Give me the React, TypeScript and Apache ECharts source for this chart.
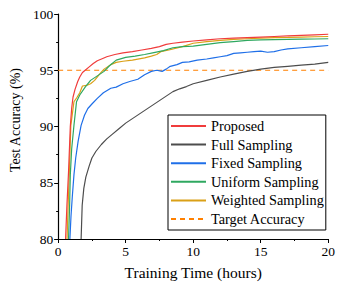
import React, { useEffect, useRef } from "react";
import * as echarts from "echarts";

const proposed: [number, number][] = [[0.55,80],[0.65,83],[0.77,86],[0.9,90],[1.0,91.6],[1.1,92.6],[1.25,93.3],[1.45,94],[1.6,94.4],[1.8,94.8],[2.0,95.0],[2.3,95.3],[2.6,95.6],[2.9,95.85],[3.3,96.05],[3.6,96.2],[4.2,96.4],[4.8,96.55],[5.5,96.65],[6.2,96.8],[6.9,96.95],[7.5,97.1],[8,97.3],[8.5,97.4],[9.2,97.5],[10,97.6],[11,97.7],[12,97.8],[13,97.85],[14,97.9],[15,97.95],[16,98.0],[17,98.05],[18,98.1],[19,98.15],[20,98.2]];
const fullSampling: [number, number][] = [[1.7,80],[1.78,83],[1.9,84.5],[2.05,85.5],[2.3,86.5],[2.5,87.2],[2.8,87.8],[3.2,88.4],[3.6,88.9],[4,89.3],[4.5,89.8],[5,90.3],[5.5,90.7],[6,91.1],[6.5,91.5],[7,91.9],[7.5,92.3],[8,92.7],[8.5,93.1],[9,93.35],[9.5,93.55],[10,93.8],[11,94.1],[12,94.4],[13,94.65],[14,94.9],[15,95.1],[16,95.25],[17,95.35],[18,95.45],[19,95.55],[20,95.7]];
const fixedSampling: [number, number][] = [[0.87,80],[0.95,82],[1.05,83.8],[1.17,85.7],[1.3,87.2],[1.48,88.7],[1.7,90.1],[1.95,91],[2.2,91.6],[2.5,92.0],[2.9,92.5],[3.35,93.0],[3.9,93.4],[4.3,93.5],[4.8,93.8],[5.3,94.0],[5.9,94.2],[6.4,94.6],[6.9,94.9],[7.3,95.0],[7.7,94.9],[8,95.1],[8.3,95.35],[8.8,95.5],[9.2,95.7],[9.7,95.75],[10.3,95.9],[11,96.0],[11.5,96.1],[12,96.2],[12.5,96.3],[13,96.5],[13.5,96.55],[14,96.6],[14.5,96.65],[15,96.7],[15.5,96.6],[16,96.65],[16.5,96.8],[17,96.9],[18,97.0],[19,97.1],[20,97.2]];
const uniformSampling: [number, number][] = [[0.77,80],[0.85,83],[0.9,85.7],[1.0,88],[1.17,90.1],[1.36,92.2],[1.6,92.8],[2,93.5],[2.4,94.1],[2.9,94.5],[3.4,94.9],[3.8,95.4],[4.3,95.9],[5,96.15],[5.7,96.25],[6.4,96.4],[7,96.55],[7.8,96.75],[8.5,97.0],[9.2,97.1],[10,97.15],[11,97.3],[12,97.45],[13,97.55],[14,97.65],[15,97.7],[16,97.72],[17,97.74],[18,97.76],[19,97.78],[20,97.8]];
const weightedSampling: [number, number][] = [[0.66,80],[0.74,83],[0.82,85.7],[0.94,90.1],[1.17,92.2],[1.4,92.6],[1.6,93],[1.8,93.6],[2.1,93.65],[2.4,93.8],[2.7,94.1],[3.1,94.7],[3.4,95.1],[3.9,95.5],[4.3,95.7],[4.8,95.8],[5.5,95.9],[6.4,96.1],[6.9,96.25],[7.3,96.4],[7.6,96.65],[8.2,96.8],[9.2,97.1],[10,97.4],[11,97.55],[12,97.65],[13,97.75],[14,97.8],[15,97.85],[16,97.9],[17,97.92],[18,97.95],[19,97.98],[20,98.0]];
const targetAccuracy: [number, number][] = [[0,95],[20,95]];

const seriesNames = ["Proposed", "Full Sampling", "Fixed Sampling", "Uniform Sampling", "Weighted Sampling", "Target Accuracy"];
const seriesColors = ["#f03c3c", "#4d4d4d", "#1f6fe8", "#2fa860", "#daa017", "#ff8000"];

const FONT = "Liberation Serif";

export default function App() {
  const ref = useRef<HTMLDivElement>(null);
  useEffect(() => {
    document.body.style.margin = "0";
    if (!ref.current) return;
    const chart = echarts.init(ref.current, undefined, { renderer: "svg" });
    const datasets = [proposed, fullSampling, fixedSampling, uniformSampling, weightedSampling, targetAccuracy];
    chart.setOption({
      animation: false,
      backgroundColor: "#fff",
      textStyle: { fontFamily: FONT },
      grid: { left: 49, right: 5, top: 14, bottom: 43 },
      legend: {
        left: 168,
        top: 115,
        orient: "vertical",
        itemWidth: 35,
        itemHeight: 14,
        itemGap: 4.6,
        padding: [4, 2, 4, 2],
        borderColor: "#000",
        borderWidth: 1,
        borderRadius: 0,
        itemStyle: { opacity: 0, borderWidth: 0 },
        textStyle: { fontFamily: FONT, fontSize: 14.3, color: "#000" },
        data: seriesNames,
      },
      xAxis: {
        type: "value",
        min: 0,
        max: 20,
        interval: 5,
        name: "Training Time (hours)",
        nameLocation: "middle",
        nameGap: 25,
        nameTextStyle: { fontFamily: FONT, fontSize: 15.5, color: "#000" },
        axisLine: { show: true, onZero: false, lineStyle: { color: "#000", width: 1.2 } },
        axisTick: { show: true, inside: false, length: 4, lineStyle: { color: "#000" } },
        minorTick: { show: true, splitNumber: 2, length: 2, lineStyle: { color: "#000" } },
        axisLabel: { fontFamily: FONT, fontSize: 13.5, color: "#000", margin: 5 },
        splitLine: { show: false },
      },
      yAxis: {
        type: "value",
        min: 80,
        max: 100,
        interval: 5,
        name: "Test Accuracy (%)",
        nameLocation: "middle",
        nameGap: 29,
        nameTextStyle: { fontFamily: FONT, fontSize: 14, color: "#000", padding: [0, 0, 0, 13] },
        axisLine: { show: true, onZero: false, lineStyle: { color: "#000", width: 1.2 } },
        axisTick: { show: true, inside: false, length: 4, lineStyle: { color: "#000" } },
        minorTick: { show: true, splitNumber: 2, length: 2, lineStyle: { color: "#000" } },
        axisLabel: { fontFamily: FONT, fontSize: 13.5, color: "#000", margin: 5 },
        splitLine: { show: false },
      },
      series: seriesNames.map((name, i) => ({
        name,
        type: "line",
        data: datasets[i],
        symbol: "none",
        showSymbol: false,
        smooth: false,
        clip: true,
        color: seriesColors[i],
        lineStyle: {
          color: seriesColors[i],
          width: 1.2,
          type: i === 5 ? [5, 4] : "solid",
        },
        z: i === 5 ? 1 : 10 - i,
      })),
    });
    return () => chart.dispose();
  }, []);
  return <div ref={ref} style={{ width: 338, height: 285 }} />;
}
